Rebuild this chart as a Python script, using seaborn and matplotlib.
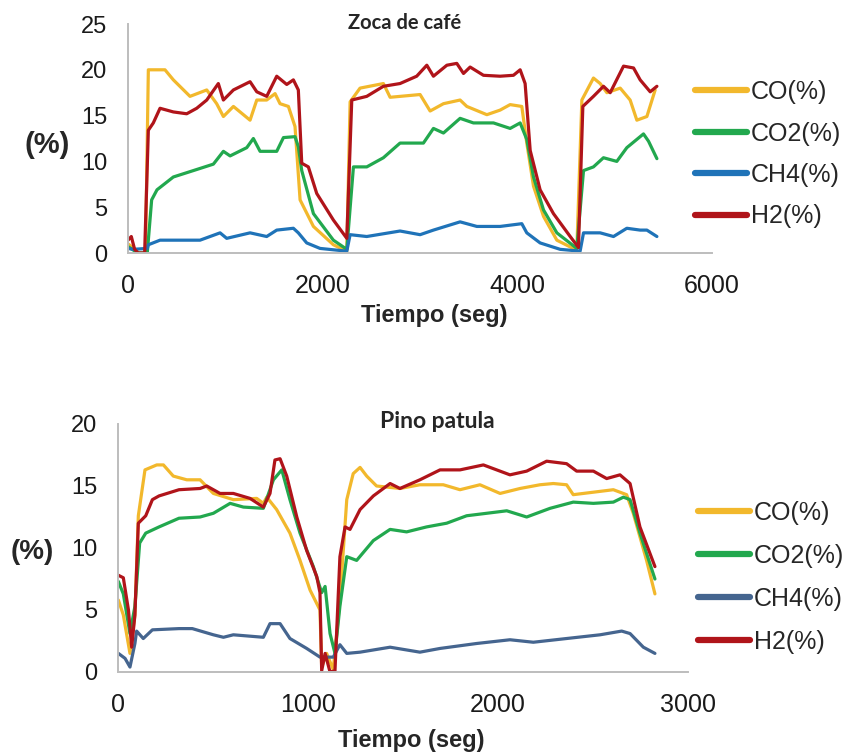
import matplotlib
matplotlib.use("Agg")
import matplotlib.pyplot as plt
import seaborn as sns
import pandas as pd
from matplotlib.lines import Line2D

# ---------------- Data: Zoca de café ----------------
z_co_t = [0, 60, 110, 180, 209, 380, 466, 637, 809, 911, 980, 1083, 1254, 1323, 1425, 1511, 1562, 1648, 1716, 1768,
          1905, 2110, 2248, 2282, 2384, 2624, 2693, 3001, 3104, 3241, 3412, 3481, 3687, 3823, 3926, 4046, 4097,
          4166, 4269, 4406, 4611, 4663, 4782, 4851, 4920, 5057, 5159, 5228, 5331, 5416]
z_co_v = [1.0, 0.5, 0.0, 0.0, 20.0, 20.0, 18.9, 17.1, 17.8, 16.3, 14.9, 16.0, 14.5, 16.7, 16.7, 17.4, 16.3, 16.0, 13.8, 5.8,
          2.9, 0.9, 0.2, 16.5, 18.0, 18.5, 17.0, 17.3, 15.5, 16.3, 16.7, 16.0, 15.1, 15.6, 16.2, 16.0, 12.0,
          7.3, 4.0, 1.4, 0.3, 16.7, 19.1, 18.5, 17.5, 18.0, 16.7, 14.5, 14.9, 17.8]

z_co2_t = [0, 100, 198, 243, 298, 466, 672, 877, 980, 1049, 1220, 1288, 1357, 1528, 1597, 1716, 1750, 1785, 1905, 2110,
           2248, 2316, 2453, 2624, 2795, 3035, 3138, 3241, 3412, 3549, 3755, 3926, 4029, 4097, 4166, 4269, 4406,
           4611, 4680, 4782, 4885, 5022, 5125, 5296, 5348, 5434]
z_co2_v = [0.7, 0.0, 0.0, 5.8, 6.9, 8.3, 9.0, 9.7, 11.1, 10.6, 11.5, 12.5, 11.1, 11.1, 12.6, 12.7, 11.6, 9.0, 4.3, 1.4,
           0.4, 9.4, 9.4, 10.4, 12.0, 12.0, 13.6, 13.1, 14.7, 14.2, 14.2, 13.6, 14.2, 12.4, 8.3, 4.7, 2.2,
           0.5, 9.0, 9.4, 10.4, 10.0, 11.5, 13.0, 12.2, 10.3]

z_ch4_t = [0, 50, 198, 209, 329, 569, 740, 946, 1014, 1254, 1425, 1528, 1699, 1750, 1836, 1973, 2248, 2282, 2453,
           2795, 3001, 3138, 3412, 3584, 3823, 4046, 4097, 4234, 4440, 4645, 4680, 4851, 4988, 5125, 5262, 5331, 5434]
z_ch4_v = [0.5, 0.4, 0.5, 0.9, 1.4, 1.4, 1.4, 2.2, 1.6, 2.2, 1.8, 2.5, 2.7, 2.2, 1.1, 0.5, 0.2, 2.0, 1.8,
           2.4, 2.0, 2.5, 3.4, 2.9, 2.9, 3.2, 2.2, 1.1, 0.4, 0.2, 2.2, 2.2, 1.8, 2.7, 2.5, 2.5, 1.8]

z_h2_t = [0, 34, 68, 103, 171, 209, 260, 329, 466, 603, 706, 809, 928, 980, 1083, 1254, 1323, 1425, 1528, 1631, 1699,
          1750, 1785, 1853, 1939, 2110, 2248, 2299, 2453, 2624, 2795, 2966, 3070, 3138, 3276, 3378, 3447, 3515,
          3652, 3823, 3960, 4029, 4080, 4132, 4234, 4371, 4543, 4628, 4673, 4782, 4885, 4954, 5091, 5194, 5262,
          5365, 5434]
z_h2_v = [1.4, 1.8, 0.4, 0.0, 0.0, 13.4, 14.2, 15.8, 15.4, 15.2, 15.8, 16.7, 18.5, 16.7, 17.8, 18.7, 17.6, 17.1, 19.3, 18.4, 18.9,
          17.8, 9.8, 9.4, 6.5, 3.6, 1.6, 16.7, 17.1, 18.2, 18.5, 19.3, 20.5, 19.3, 20.5, 20.7, 19.6, 20.3,
          19.4, 19.3, 19.4, 20.0, 18.5, 11.2, 6.9, 4.3, 1.8, 0.6, 16.0, 17.1, 18.2, 17.5, 20.4, 20.2, 18.9,
          17.6, 18.2]

# ---------------- Data: Pino patula ----------------
p_co_t = [2, 28, 63, 89, 107, 142, 204, 239, 291, 362, 432, 502, 607, 730, 765, 783, 835, 905, 958, 1011, 1063,
          1072, 1098, 1133, 1168, 1204, 1238, 1274, 1309, 1361, 1484, 1589, 1712, 1800, 1905, 2011, 2116, 2221,
          2291, 2361, 2396, 2502, 2607, 2677, 2712, 2782, 2826]
p_co_v = [5.8, 4.6, 1.5, 4.6, 12.6, 16.3, 16.7, 16.7, 15.8, 15.5, 15.5, 14.4, 13.9, 14.0, 13.6, 14.1, 13.1, 11.2, 9.0, 6.6, 5.0,
          0.4, 1.5, 0.2, 5.8, 13.9, 16.0, 16.5, 15.8, 15.0, 14.8, 15.1, 15.1, 14.7, 15.1, 14.4, 14.8, 15.1,
          15.2, 15.1, 14.3, 14.5, 14.7, 14.3, 12.8, 9.0, 6.3]

p_co2_t = [2, 28, 63, 89, 114, 146, 216, 321, 432, 502, 590, 660, 765, 818, 862, 905, 958, 1028, 1072, 1090, 1116,
           1142, 1168, 1204, 1256, 1344, 1432, 1519, 1624, 1730, 1835, 2046, 2151, 2274, 2396, 2502, 2607, 2660,
           2695, 2747, 2826]
p_co2_v = [7.3, 6.3, 3.1, 5.3, 10.4, 11.2, 11.7, 12.4, 12.5, 12.8, 13.6, 13.3, 13.2, 15.5, 16.3, 13.9, 11.2, 8.5, 6.4, 6.9, 3.1,
           1.5, 5.3, 9.3, 9.0, 10.6, 11.5, 11.3, 11.7, 12.0, 12.6, 13.0, 12.5, 13.2, 13.7, 13.6, 13.7, 14.1,
           13.9, 11.2, 7.5]

p_ch4_t = [2, 37, 63, 89, 98, 133, 181, 321, 391, 502, 555, 607, 765, 800, 853, 905, 993, 1063, 1133, 1168, 1204,
           1274, 1432, 1589, 1695, 1888, 2063, 2186, 2361, 2537, 2651, 2695, 2765, 2826]
p_ch4_v = [1.5, 1.1, 0.4, 2.3, 3.3, 2.7, 3.4, 3.5, 3.5, 3.0, 2.8, 3.0, 2.8, 3.9, 3.9, 2.7, 1.9, 1.2, 1.2, 2.2, 1.5,
           1.6, 2.0, 1.6, 1.9, 2.3, 2.6, 2.4, 2.7, 3.0, 3.3, 3.1, 2.0, 1.5]

p_h2_t = [2, 28, 55, 72, 89, 107, 146, 181, 216, 321, 432, 467, 537, 607, 695, 765, 800, 826, 853, 888, 941, 993,
          1046, 1063, 1072, 1090, 1116, 1142, 1168, 1195, 1221, 1274, 1344, 1432, 1484, 1589, 1695, 1800, 1923,
          2063, 2151, 2256, 2361, 2414, 2502, 2572, 2642, 2695, 2747, 2826]
p_h2_v = [7.8, 7.6, 5.0, 2.0, 4.6, 12.0, 12.6, 13.9, 14.2, 14.7, 14.8, 15.0, 14.4, 14.4, 14.0, 13.3, 14.4, 17.1, 17.2, 15.8, 12.5, 9.8,
          7.7, 6.4, 0.1, 1.5, 0.0, 0.1, 9.3, 11.7, 11.5, 13.1, 14.2, 15.2, 14.8, 15.5, 16.3, 16.3, 16.7,
          15.9, 16.2, 17.0, 16.8, 16.2, 16.2, 15.6, 15.9, 15.2, 11.7, 8.5]

labels = ["CO(%)", "CO2(%)", "CH4(%)", "H2(%)"]
top_colors = ["#F2B82C", "#22A84E", "#1F73B8", "#B0141A"]
bot_colors = ["#F2B82C", "#22A84E", "#45658F", "#B0141A"]

def long_df(series):
    rows = []
    for lab, (t, v) in zip(labels, series):
        for ti, vi in zip(t, v):
            rows.append({"t": ti, "v": vi, "gas": lab})
    return pd.DataFrame(rows)

df_top = long_df([(z_co_t, z_co_v), (z_co2_t, z_co2_v), (z_ch4_t, z_ch4_v), (z_h2_t, z_h2_v)])
df_bot = long_df([(p_co_t, p_co_v), (p_co2_t, p_co2_v), (p_ch4_t, p_ch4_v), (p_h2_t, p_h2_v)])

sns.set_theme(style="white")
plt.rcParams["font.family"] = ["Liberation Sans", "DejaVu Sans"]

W, H = 854, 755
fig = plt.figure(figsize=(W / 100, H / 100), dpi=100)

def px_axes(x0, y0, x1, y1):
    return fig.add_axes([x0 / W, 1 - y1 / H, (x1 - x0) / W, (y1 - y0) / H])

ax1 = px_axes(128, 24, 712, 253)
ax2 = px_axes(118, 424, 688, 672)

def style(ax, df, colors, xmax, ymax, yticks, xticks):
    sns.lineplot(data=df, x="t", y="v", hue="gas", palette=dict(zip(labels, colors)),
                 estimator=None, sort=False, linewidth=2.3, ax=ax, legend=False)
    ax.set_xlim(0, xmax)
    ax.set_ylim(0, ymax)
    ax.set_yticks(yticks)
    ax.set_xticks(xticks)
    ax.set_xlabel("")
    ax.set_ylabel("")
    for s in ["top", "right"]:
        ax.spines[s].set_visible(False)
    for s in ["left", "bottom"]:
        ax.spines[s].set_color("#BDBDBD")
        ax.spines[s].set_linewidth(1.4)
    ax.tick_params(axis="both", length=0, pad=15, colors="#1a1a1a")
    for lab in ax.get_yticklabels():
        lab.set_fontsize(17)
    for lab in ax.get_xticklabels():
        lab.set_fontsize(18)
    ax.patch.set_alpha(0)

style(ax1, df_top, top_colors, 6000, 25, [0, 5, 10, 15, 20, 25], [0, 2000, 4000, 6000])
style(ax2, df_bot, bot_colors, 3000, 20, [0, 5, 10, 15, 20], [0, 1000, 2000, 3000])

def legend(colors, x, y, spacing):
    handles = [Line2D([0], [0], color=c, lw=4.5, solid_capstyle="round") for c in colors]
    fig.legend(handles, labels, loc="upper left", bbox_to_anchor=(x / W, 1 - y / H),
               frameon=False, fontsize=18, handlelength=2.1, handletextpad=0.15,
               labelspacing=spacing, borderpad=0, borderaxespad=0)

legend(top_colors, 695, 80, 0.70)
legend(bot_colors, 698, 501, 0.76)

# axis labels
fig.text(47 / W, 1 - 145 / H, "(%)", fontsize=21, fontweight="bold", ha="center", va="center")
fig.text(32 / W, 1 - 552 / H, "(%)", fontsize=20, fontweight="bold", ha="center", va="center")
fig.text(434 / W, 1 - 316 / H, "Tiempo (seg)", fontsize=17, fontweight="bold", ha="center", va="center")
fig.text(411 / W, 1 - 740 / H, "Tiempo (seg)", fontsize=17, fontweight="bold", ha="center", va="center")

# titles
fig.text(405 / W, 1 - 23 / H, "Zoca de café", fontsize=14.5, fontweight="bold", family=["Lato", "DejaVu Sans"],
         ha="center", va="center")
fig.text(437 / W, 1 - 422 / H, "Pino patula", fontsize=16.5, fontweight="bold", family=["Lato", "DejaVu Sans"],
         ha="center", va="center")

fig.savefig("out.png", dpi=100, facecolor="white")
